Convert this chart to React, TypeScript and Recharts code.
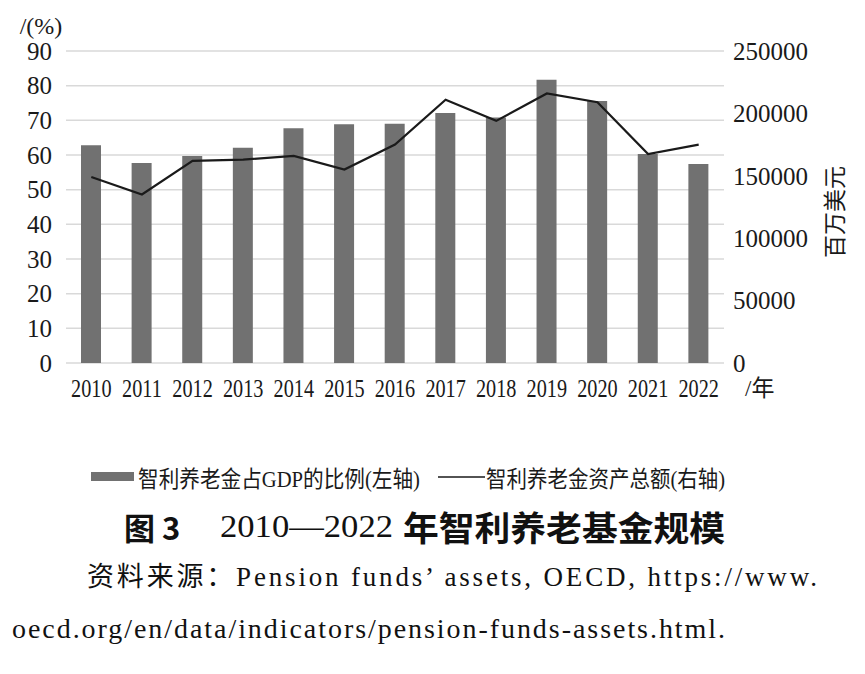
import React from "react";
import {
  ComposedChart,
  Bar,
  Line,
  XAxis,
  YAxis,
  CartesianGrid,
  Legend,
  Label,
} from "recharts";

const years = ["2010", "2011", "2012", "2013", "2014", "2015", "2016", "2017", "2018", "2019", "2020", "2021", "2022"];
// 智利养老金占GDP的比例 (%)
const gdpShare = [62.8, 57.7, 59.7, 62.1, 67.7, 68.9, 69, 72.1, 70.8, 81.7, 75.6, 60.3, 57.4];
// 智利养老金资产总额 (百万美元)
const assets = [149000, 135000, 162000, 163000, 166000, 155000, 175000, 211000, 194000, 216000, 209000, 167500, 175000];

const leftTicks = [0, 10, 20, 30, 40, 50, 60, 70, 80, 90];
const rightTicks = [0, 50000, 100000, 150000, 200000, 250000];

const barName = "智利养老金占GDP的比例(左轴)";
const lineName = "智利养老金资产总额(右轴)";

const data = years.map((year, i) => ({
  year,
  share: gdpShare[i],
  assets: assets[i],
}));

const serif = "Liberation Serif";
const cjk = "Liberation Serif, Noto Sans CJK SC";

function YearTick(props: any) {
  const { x, y, payload } = props;
  return (
    <g transform={`translate(${x},${y})`}>
      <text
        textAnchor="middle"
        dy="0.71em"
        transform="scale(0.81,1)"
        fontFamily={serif}
        fontSize={25}
        fill="#1a1a1a"
      >
        {payload.value}
      </text>
    </g>
  );
}

function ValueTick(props: any) {
  const { x, y, payload, textAnchor } = props;
  return (
    <text
      x={x}
      y={y}
      dy="0.35em"
      textAnchor={textAnchor}
      fontFamily={serif}
      fontSize={25}
      fill="#1a1a1a"
    >
      {payload.value}
    </text>
  );
}

function LegendContent() {
  return (
    <svg width={865} height={30}>
      <rect x={91} y={10} width={43} height={9} fill="#717171" />
      <text
        x={138}
        y={17}
        dominantBaseline="central"
        fontFamily={cjk}
        fontSize={23}
        fill="#1a1a1a"
        textLength={282}
        lengthAdjust="spacingAndGlyphs"
      >
        {barName}
      </text>
      <line x1={438} x2={485} y1={15} y2={15} stroke="#1a1a1a" strokeWidth={1.6} />
      <text
        x={486}
        y={17}
        dominantBaseline="central"
        fontFamily={cjk}
        fontSize={23}
        fill="#1a1a1a"
        textLength={239}
        lengthAdjust="spacingAndGlyphs"
      >
        {lineName}
      </text>
    </svg>
  );
}

export default function App() {
  return (
    <div
      style={{
        position: "absolute",
        left: 0,
        top: 0,
        width: 865,
        height: 674,
        background: "#fff",
      }}
    >
      <ComposedChart
        width={865}
        height={500}
        data={data}
        margin={{ top: 51, right: 0, left: 0, bottom: 80 }}
      >
        <CartesianGrid
          yAxisId="left"
          vertical={false}
          stroke="#d9d9d9"
          strokeWidth={1.5}
        />
        <XAxis
          dataKey="year"
          height={57}
          tickLine={false}
          axisLine={false}
          tickSize={0}
          tickMargin={16}
          interval={0}
          tick={<YearTick />}
        >
          <Label
            value="/年"
            position="right"
            offset={21}
            dy={-4}
            fontFamily={cjk}
            fontSize={23}
            fill="#1a1a1a"
          />
        </XAxis>
        <YAxis
          yAxisId="left"
          width={66}
          domain={[0, 90]}
          ticks={leftTicks}
          tickLine={false}
          axisLine={false}
          tickSize={0}
          tickMargin={14}
          tick={<ValueTick />}
        >
          <Label
            value="/(%)"
            position="top"
            offset={17}
            dx={8}
            fontFamily={serif}
            fontSize={24}
            fill="#1a1a1a"
          />
        </YAxis>
        <YAxis
          yAxisId="right"
          orientation="right"
          width={141}
          domain={[0, 250000]}
          ticks={rightTicks}
          tickLine={false}
          axisLine={false}
          tickSize={0}
          tickMargin={9}
          tick={<ValueTick />}
        >
          <Label
            value="百万美元"
            position="center"
            angle={-90}
            dx={40}
            dy={5}
            fontFamily="Noto Sans CJK SC"
            fontSize={23}
            fill="#1a1a1a"
          />
        </YAxis>
        <Legend
          verticalAlign="middle"
          align="center"
          content={<LegendContent />}
          wrapperStyle={{ position: "absolute", top: 462, left: 0, width: 865, height: 30 }}
        />
        <Bar
          yAxisId="left"
          dataKey="share"
          name={barName}
          fill="#717171"
          barSize={20}
          isAnimationActive={false}
        />
        <Line
          yAxisId="right"
          dataKey="assets"
          name={lineName}
          type="linear"
          stroke="#1a1a1a"
          strokeWidth={2.2}
          dot={false}
          activeDot={false}
          isAnimationActive={false}
        />
      </ComposedChart>
      <svg
        width={865}
        height={180}
        style={{ position: "absolute", left: 0, top: 494 }}
      >
        <text
          x={124}
          y={32}
          dominantBaseline="central"
          fontFamily="Noto Sans CJK SC"
          fontWeight={700}
          fontSize={31}
          fill="#111"
        >
          图 3
        </text>
        <text
          x={220}
          y={32}
          dominantBaseline="central"
          fontFamily={serif}
          fontSize={32}
          fill="#111"
          textLength={173}
          lengthAdjust="spacingAndGlyphs"
        >
          2010—2022
        </text>
        <text
          x={403}
          y={32}
          dominantBaseline="central"
          fontFamily="Noto Sans CJK SC"
          fontWeight={700}
          fontSize={34}
          fill="#111"
          textLength={322}
          lengthAdjust="spacingAndGlyphs"
        >
          年智利养老基金规模
        </text>
        <text
          x={87}
          y={83}
          dominantBaseline="central"
          fontFamily={cjk}
          fontSize={27}
          fill="#111"
          textLength={730}
          lengthAdjust="spacing"
        >
          资料来源：Pension funds’ assets, OECD, https://www.
        </text>
        <text
          x={12}
          y={134}
          dominantBaseline="central"
          fontFamily={serif}
          fontSize={28}
          fill="#111"
          textLength={713}
          lengthAdjust="spacing"
        >
          oecd.org/en/data/indicators/pension-funds-assets.html.
        </text>
      </svg>
    </div>
  );
}
